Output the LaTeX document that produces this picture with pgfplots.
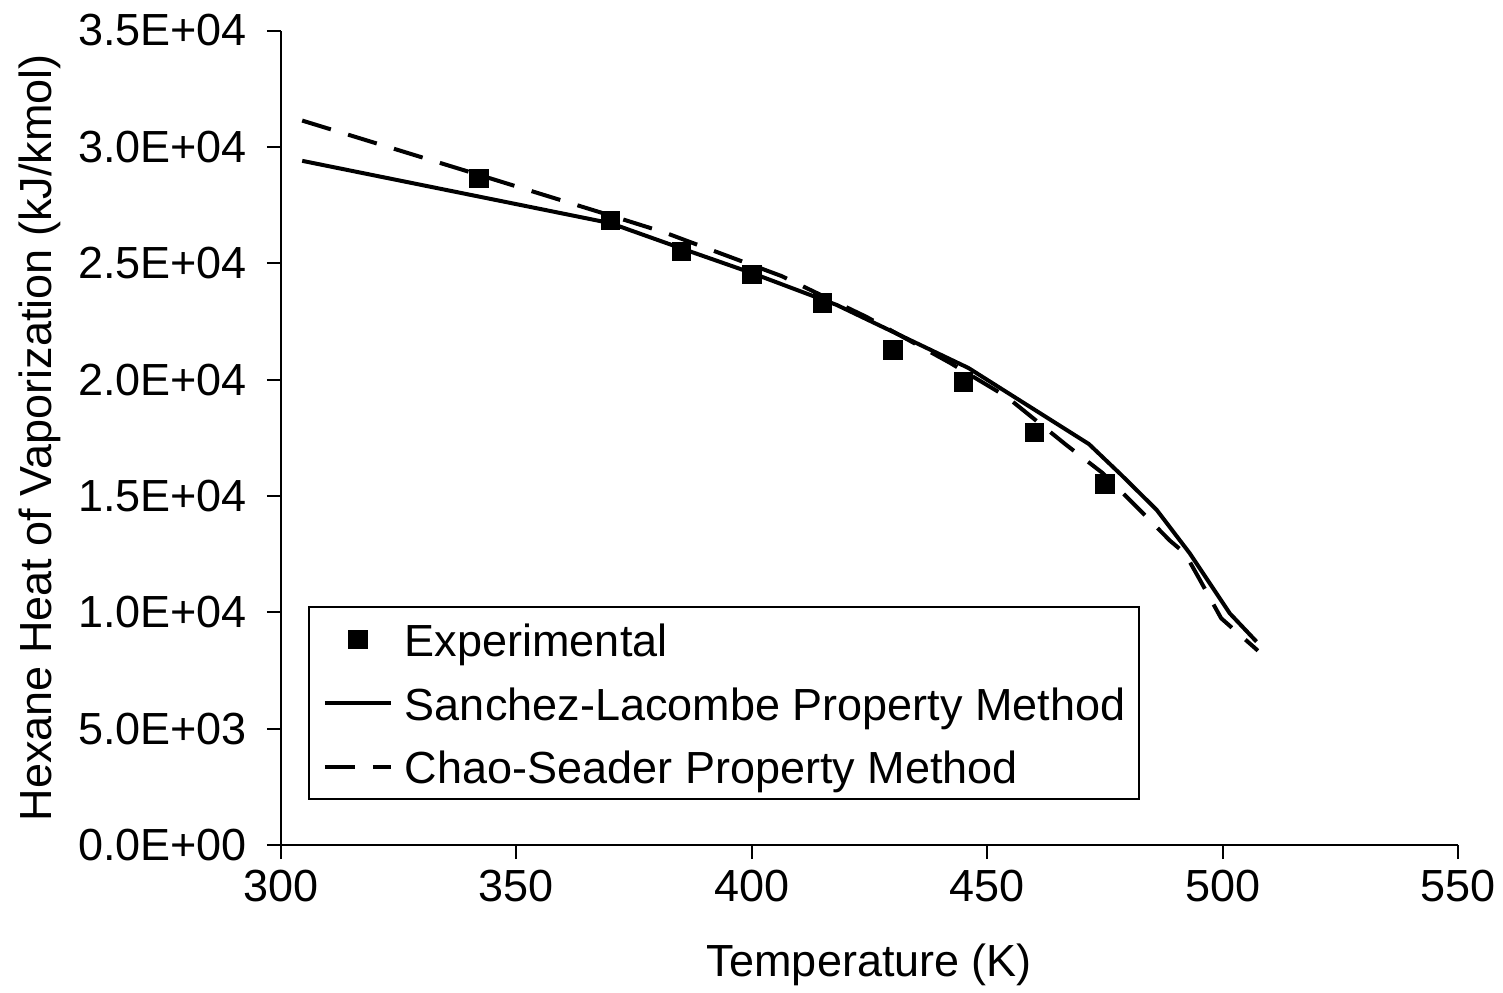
\documentclass[border=0pt]{standalone}
\usepackage{fontspec}
\setmainfont{Liberation Sans}
\usepackage{pgfplots}
\pgfplotsset{compat=1.18}
\newcommand{\chartfont}{\fontsize{22.5}{27}\selectfont}
\pgfplotsset{
  mylegend/.style={legend image code/.code={%
    \draw[mark repeat=2,mark phase=2,##1] plot coordinates {(0pt,0pt) (16.5pt,0pt) (33pt,0pt)};}},
}
\begin{document}
\begin{tikzpicture}
\path[use as bounding box] (-140.5pt,-73.5pt) rectangle (611pt,422.5pt);
\begin{axis}[
  scale only axis,
  width=588.5pt, height=407.25pt,
  xmin=300, xmax=550, ymin=0, ymax=35000,
  axis x line*=bottom, axis y line*=left,
  axis line style={line width=1pt, -},
  xtick={300,350,400,450,500,550},
  xticklabels={300,350,400,450,500,550},
  ytick={0,5000,10000,15000,20000,25000,30000,35000},
  yticklabels={0.0E+00,5.0E+03,1.0E+04,1.5E+04,2.0E+04,2.5E+04,3.0E+04,3.5E+04},
  scaled y ticks=false, scaled x ticks=false,
  /pgf/number format/assume math mode=true,
  tick align=outside, major tick length=7pt,
  tick style={line width=1pt, black},
  tick label style={font=\chartfont},
  xticklabel style={yshift=-2pt},
  yticklabel style={xshift=-6.5pt},
  xlabel={Temperature (K)},
  ylabel={Hexane Heat of Vaporization (kJ/kmol)},
  every axis x label/.style={at={([yshift=-60pt]axis description cs:0.5,0)}, anchor=center, font=\chartfont},
  every axis y label/.style={at={([xshift=-120.5pt]axis description cs:0,0.5)}, rotate=90, anchor=center, font=\chartfont},
  legend cell align=left,
  legend style={at={(axis description cs:0.0229,0.0552)}, anchor=south west,
    draw=black, line width=1pt, fill=white,
    inner xsep=7pt, inner ysep=3.75pt,
    font=\chartfont, column sep=6pt, row sep=6.75pt,
    nodes={inner xsep=0pt, inner ysep=2pt, text height=19pt, text depth=2pt}},
]
\addplot[only marks, mark=square*, mark size=4.6pt, black, mark options={line width=0.4pt}, mylegend]
  coordinates {
  (342,28650) (370,26850) (385,25500) (400,24530) (415,23300)
  (430,21280) (445,19900) (460,17730) (475,15510)
  };
\addlegendentry{Experimental}
\addplot[black, line width=2pt, no marks, mylegend]
  coordinates {
  (304.5,29400) (370,26720) (385,25640) (400,24580) (418,23210)
  (446,20500) (471.6,17230) (478.5,15900) (486,14400) (493,12540)
  (501.5,9960) (507.2,8740)
  };
\addlegendentry{Sanchez-Lacombe Property Method}
\addplot[black, line width=2pt, no marks, dash pattern=on 15pt off 9pt, mylegend]
  coordinates {
  (304.5,31130) (342,28800) (370,27050) (381.5,26320) (391,25600)
  (406.3,24450) (424.3,22700) (442,20730) (454.1,19265) (466.8,17190)
  (474.6,15970) (481.7,14540) (488.8,13080) (492,12535) (494.8,11530)
  (499.7,9742) (507.5,8350)
  };
\addlegendentry{Chao-Seader Property Method}
\end{axis}
\end{tikzpicture}
\end{document}
